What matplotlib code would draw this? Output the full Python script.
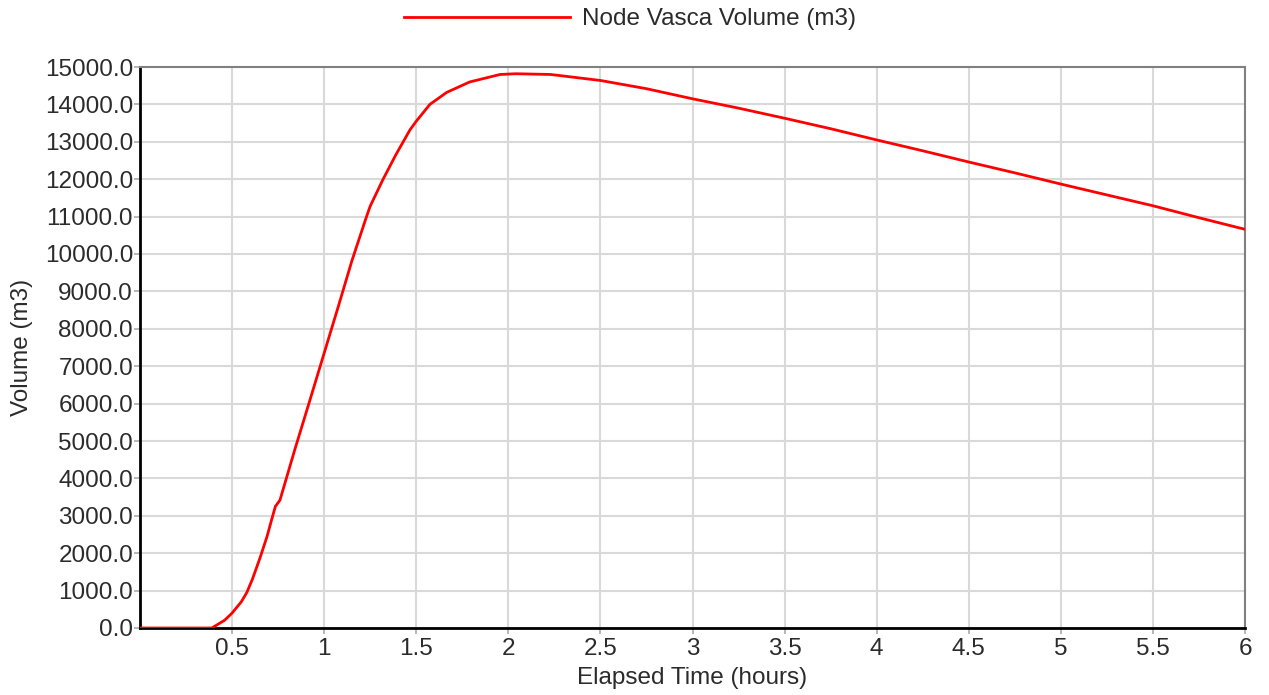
import matplotlib
matplotlib.use("Agg")
import matplotlib.pyplot as plt
from matplotlib.ticker import FuncFormatter

plt.rcParams['font.family'] = ['Liberation Sans', 'DejaVu Sans']

hours = [0.00, 0.39, 0.46, 0.50, 0.55, 0.58, 0.61, 0.65, 0.69, 0.715, 0.735, 0.76, 0.84, 0.92,
         1.00, 1.08, 1.15, 1.23, 1.25, 1.32, 1.39, 1.466, 1.50, 1.574, 1.665, 1.79,
         1.955, 2.04, 2.23, 2.50, 2.75, 3.00, 3.25, 3.50, 3.75, 4.00, 4.25, 4.50,
         4.75, 5.00, 5.25, 5.50, 5.75, 6.00]
volume = [0, 0, 210, 400, 700, 950, 1300, 1850, 2450, 2900, 3250, 3420, 4760, 6050,
          7350, 8650, 9810, 11000, 11280, 12000, 12660, 13320, 13550, 14000, 14320, 14600,
          14800, 14820, 14800, 14640, 14420, 14150, 13900, 13630, 13350, 13050, 12760, 12460,
          12170, 11870, 11580, 11290, 10970, 10660]
x_ticks = [0.5, 1, 1.5, 2, 2.5, 3, 3.5, 4, 4.5, 5, 5.5, 6]
x_tick_labels = ["0.5", "1", "1.5", "2", "2.5", "3", "3.5", "4", "4.5", "5", "5.5", "6"]
y_ticks = list(range(0, 15001, 1000))
series_name = "Node Vasca Volume (m3)"

TXT = '#2b2b2b'
FS = 17.5

fig = plt.figure(figsize=(12.69, 6.95), dpi=100)
ax = fig.add_axes([140/1269, (695-628)/695, 1105/1269, 561/695])

line, = ax.plot(hours, volume, color='#ff0000', lw=2.0, label=series_name, zorder=3)

ax.set_xlim(0, 6)
ax.set_ylim(0, 15000)
ax.set_xticks(x_ticks)
ax.set_xticklabels(x_tick_labels)
ax.set_yticks(y_ticks)
ax.yaxis.set_major_formatter(FuncFormatter(lambda v, p: f"{v:.1f}"))
ax.tick_params(axis='both', length=4, width=1.2, color='#aaaaaa',
               labelsize=FS, labelcolor=TXT)
ax.tick_params(axis='y', pad=1)
ax.tick_params(axis='x', pad=3)
ax.grid(True, color='#d9d9d9', lw=1.5, zorder=0)
ax.set_axisbelow(True)

for s in ['top', 'right']:
    ax.spines[s].set_color('#808080')
    ax.spines[s].set_linewidth(1.5)
for s in ['left', 'bottom']:
    ax.spines[s].set_color('#000000')
    ax.spines[s].set_linewidth(2.0)

ax.set_xlabel("Elapsed Time (hours)", fontsize=FS, color=TXT)
ax.set_ylabel("Volume (m3)", fontsize=FS, color=TXT)
ax.xaxis.set_label_coords(0.5, -(667 - 628) / 561)
ax.yaxis.set_label_coords(-(140 - 33) / 1105, 0.5)

leg = fig.legend(handles=[line], loc='center', bbox_to_anchor=(630/1269, 1 - 19/695),
                 frameon=False, fontsize=FS, handlelength=6.8, handletextpad=0.5)
for t in leg.get_texts():
    t.set_color(TXT)

fig.savefig("out.png", dpi=100)
